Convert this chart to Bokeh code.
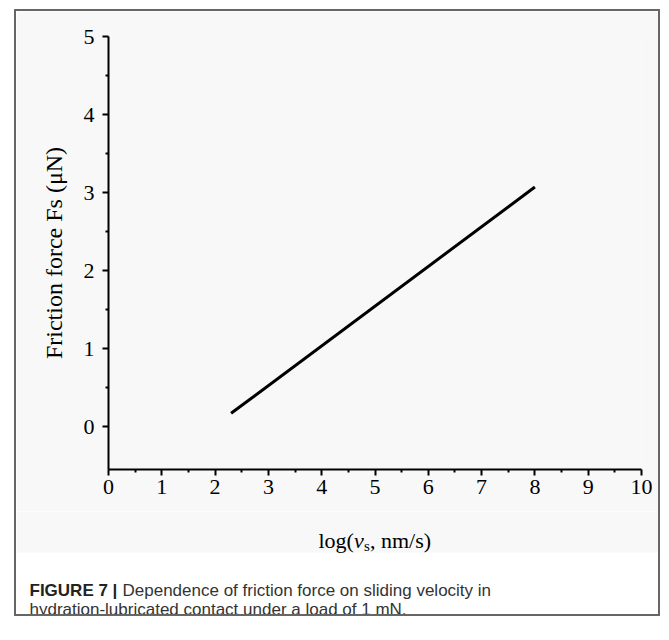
from bokeh.plotting import figure
from bokeh.layouts import column, row
from bokeh.models import FixedTicker, Range1d, Spacer
from bokeh.core.properties import value
from bokeh.embed import file_html
from bokeh.resources import INLINE

# ---- data ----
velocity_log = [2.3, 8.0]
friction_force = [0.17, 3.07]
x_ticks = [0, 1, 2, 3, 4, 5, 6, 7, 8, 9, 10]
x_minor = [0.5, 1.5, 2.5, 3.5, 4.5, 5.5, 6.5, 7.5, 8.5, 9.5]
y_ticks = [0, 1, 2, 3, 4, 5]
y_minor = [0.5, 1.5, 2.5, 3.5, 4.5]
y_title = "Friction force Fs (\u03bcN)"
x_title_parts = ["log(", "v", "s", ", nm/s)"]
caption_bold = "FIGURE 7 |"
caption_line1 = "Dependence of friction force on sliding velocity in"
caption_line2 = "hydration-lubricated contact under a load of 1 mN."

SERIF = "Liberation Serif"
SANS = "Liberation Sans"
GRAY_BG = "#f8f8f8"

W = 642
H_TOP = 500
H_BOT = 103
FL, FT, FW, FH = 92, 25, 533, 433

# ---------------- chart ----------------
p = figure(width=W, height=H_TOP, frame_width=FW, frame_height=FH,
           min_border_left=FL, min_border_right=W - FL - FW,
           min_border_top=FT, min_border_bottom=H_TOP - FT - FH,
           x_range=Range1d(0, 10), y_range=Range1d(-0.55, 5),
           output_backend="svg", toolbar_location=None)
p.background_fill_color = GRAY_BG
p.border_fill_color = GRAY_BG
p.outline_line_color = None
p.grid.visible = False

p.line(velocity_log, friction_force, line_color="black", line_width=3)

for ax in (p.xaxis[0], p.yaxis[0]):
    ax.axis_line_color = "black"
    ax.axis_line_width = 2
    ax.major_tick_line_color = "black"
    ax.major_tick_line_width = 2
    ax.minor_tick_line_color = "black"
    ax.minor_tick_line_width = 2
    ax.major_tick_in = 0
    ax.major_tick_out = 6
    ax.minor_tick_in = 0
    ax.minor_tick_out = 3
    ax.major_label_text_font = SERIF
    ax.major_label_text_font_size = "22px"
    ax.major_label_text_color = "black"

p.xaxis[0].ticker = FixedTicker(ticks=x_ticks, minor_ticks=x_minor)
p.yaxis[0].ticker = FixedTicker(ticks=y_ticks, minor_ticks=y_minor)
p.xaxis[0].major_label_standoff = 4
p.yaxis[0].major_label_standoff = 8

p.yaxis[0].axis_label = y_title
p.yaxis[0].axis_label_text_font = SERIF
p.yaxis[0].axis_label_text_font_size = "24px"
p.yaxis[0].axis_label_text_font_style = "normal"
p.yaxis[0].axis_label_text_color = "black"
p.yaxis[0].axis_label_standoff = 14

# ---------------- strip below: x title + caption ----------------
q = figure(width=W, height=H_BOT, x_range=Range1d(0, W), y_range=Range1d(H_BOT, 0),
           frame_width=W, frame_height=H_BOT,
           min_border=0, x_axis_type=None, y_axis_type=None,
           output_backend="svg", toolbar_location=None)
q.outline_line_color = None
q.grid.visible = False
q.background_fill_color = "white"
q.border_fill_color = "white"
q.quad(left=[0], right=[W], top=[0], bottom=[41], fill_color=GRAY_BG, line_color=None)

# x-axis title: log(v_s, nm/s)  (italic v, subscript s)
tx0, tby = 302, 29
q.text(x=[tx0], y=[tby], text=[x_title_parts[0]], text_font=value(SERIF),
       text_font_size="22px", text_color="black", text_baseline="alphabetic")
q.text(x=[tx0 + 35.5], y=[tby], text=[x_title_parts[1]], text_font=value(SERIF),
       text_font_style="italic", text_font_size="22px", text_color="black",
       text_baseline="alphabetic")
q.text(x=[tx0 + 45.5], y=[tby + 5], text=[x_title_parts[2]], text_font=value(SERIF),
       text_font_size="15px", text_color="black", text_baseline="alphabetic")
q.text(x=[tx0 + 51.5], y=[tby], text=[x_title_parts[3]], text_font=value(SERIF),
       text_font_size="22px", text_color="black", text_baseline="alphabetic")

# caption
cx0 = 13
q.text(x=[cx0], y=[79], text=[caption_bold], text_font=value(SANS),
       text_font_style="bold", text_font_size="17px", text_color="#222222",
       text_baseline="alphabetic")
q.text(x=[cx0 + 93], y=[79], text=[caption_line1], text_font=value(SANS),
       text_font_size="17px", text_color="#333333", text_baseline="alphabetic")
q.text(x=[cx0], y=[98], text=[caption_line2], text_font=value(SANS),
       text_font_size="17px", text_color="#333333", text_baseline="alphabetic")

box = column(p, column(q), spacing=0, styles={"border": "2px solid #666666"})
layout = column(Spacer(height=9), row(Spacer(width=14), box, spacing=0), spacing=0)

open("out.html", "w").write(file_html(layout, INLINE))
